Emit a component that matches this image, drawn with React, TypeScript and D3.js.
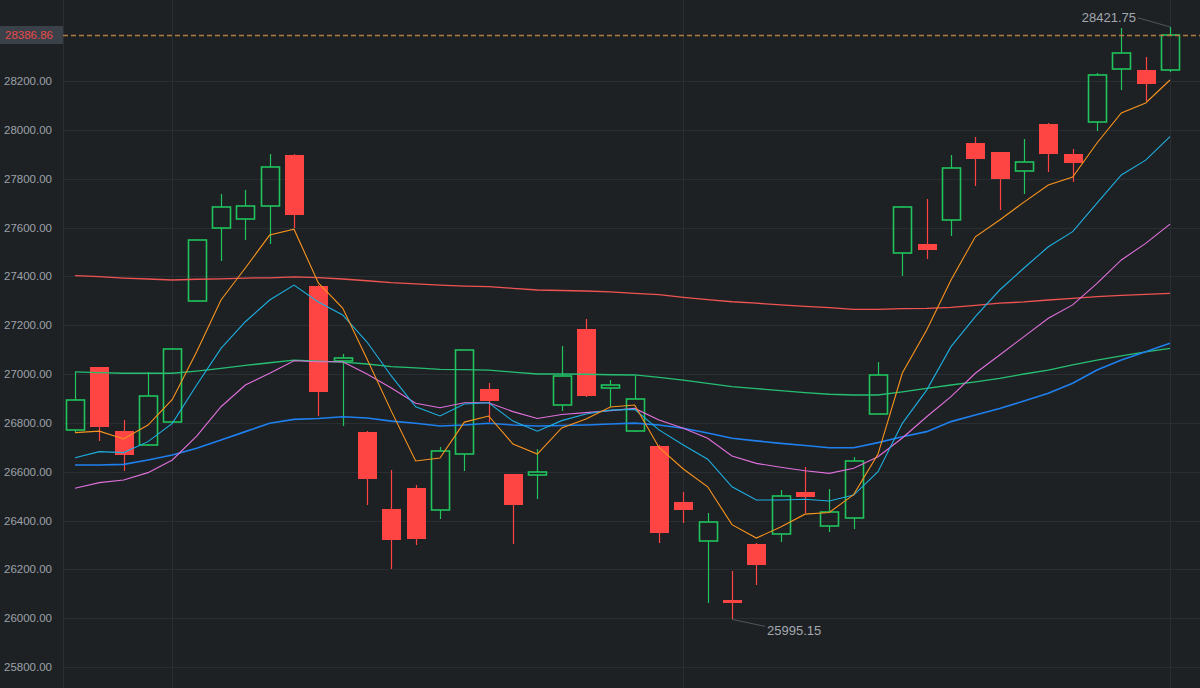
import React from 'react';
import * as d3 from 'd3';

const W = 1200;
const H = 688;

// Candles (OHLC)
const opens = [26770, 27029, 26766, 26709, 26803, 27299, 27598, 27634, 27689, 27897, 27362, 27054, 26762, 26447, 26533, 26444, 26671, 26937, 26590, 26588, 26873, 27184, 26941, 26765, 26706, 26474, 26317, 26073, 26304, 26343, 26516, 26379, 26409, 26838, 27494, 27531, 27629, 27947, 27908, 27833, 28025, 27900, 28033, 28249, 28244, 28244];
const highs = [27009, 27029, 26811, 27009, 27106, 27550, 27736, 27752, 27900, 27900, 27365, 27081, 26765, 26607, 26545, 26702, 27100, 26964, 26592, 26692, 27114, 27227, 26975, 26992, 26708, 26517, 26429, 26194, 26306, 26523, 26619, 26529, 26662, 27049, 27688, 27717, 27896, 27969, 27910, 27961, 28027, 27921, 28231, 28417, 28298, 28421.75];
const lows = [26758, 26727, 26603, 26705, 26800, 27295, 27463, 27549, 27532, 27598, 26829, 26787, 26463, 26202, 26298, 26405, 26604, 26802, 26304, 26487, 26850, 26905, 26866, 26762, 26309, 26391, 26061, 25995.15, 26134, 26310, 26429, 26354, 26364, 26835, 27403, 27472, 27564, 27771, 27672, 27737, 27827, 27788, 27996, 28162, 28118, 28238];
const closes = [26893, 26784, 26668, 26910, 27101, 27547, 27683, 27687, 27846, 27651, 26925, 27065, 26570, 26321, 26323, 26684, 27097, 26891, 26465, 26597, 26990, 26911, 26954, 26896, 26347, 26443, 26392, 26061, 26216, 26501, 26495, 26436, 26645, 26997, 27685, 27507, 27842, 27879, 27797, 27868, 27901, 27863, 28225, 28316, 28188, 28386.86];

// Moving averages
const maOrange = [26760, 26766, 26734, 26791, 26896, 27091, 27303, 27434, 27569, 27593, 27373, 27270, 27061, 26848, 26644, 26656, 26803, 26828, 26713, 26672, 26779, 26816, 26865, 26873, 26699, 26611, 26538, 26383, 26328, 26373, 26426, 26433, 26506, 26672, 27004, 27180, 27385, 27562, 27631, 27704, 27774, 27807, 27946, 28069, 28110, 28204];
const maCyan = [26657, 26682, 26678, 26723, 26798, 26955, 27105, 27214, 27303, 27364, 27295, 27242, 27131, 26992, 26866, 26828, 26877, 26882, 26807, 26766, 26809, 26836, 26852, 26855, 26771, 26709, 26651, 26538, 26484, 26484, 26487, 26480, 26504, 26600, 26798, 26934, 27112, 27235, 27344, 27434, 27521, 27583, 27700, 27815, 27876, 27972];
const maPink = [26532, 26555, 26566, 26596, 26648, 26746, 26866, 26955, 27003, 27054, 27050, 27050, 27000, 26943, 26880, 26862, 26882, 26882, 26846, 26818, 26834, 26842, 26850, 26859, 26812, 26778, 26737, 26664, 26634, 26618, 26604, 26593, 26614, 26661, 26738, 26825, 26907, 27003, 27078, 27153, 27228, 27283, 27371, 27467, 27535, 27614];
const maGreen = [27009, 27006, 27003, 27003, 27003, 27012, 27023, 27035, 27046, 27057, 27053, 27049, 27041, 27030, 27025, 27019, 27018, 27016, 27008, 27000, 27000, 26999, 26997, 26996, 26986, 26975, 26962, 26948, 26940, 26932, 26924, 26917, 26914, 26914, 26927, 26941, 26955, 26968, 26982, 27000, 27016, 27037, 27057, 27074, 27091, 27105];
const maBlue = [26627, 26627, 26630, 26648, 26668, 26696, 26730, 26764, 26798, 26814, 26818, 26825, 26820, 26807, 26798, 26787, 26791, 26798, 26791, 26787, 26789, 26791, 26795, 26799, 26791, 26778, 26758, 26737, 26726, 26716, 26707, 26698, 26698, 26719, 26743, 26764, 26805, 26832, 26859, 26889, 26921, 26962, 27016, 27057, 27091, 27126];
const maRed = [27403, 27399, 27393, 27389, 27385, 27388, 27390, 27393, 27394, 27398, 27395, 27389, 27382, 27374, 27369, 27364, 27360, 27358, 27351, 27344, 27342, 27340, 27336, 27330, 27325, 27314, 27305, 27296, 27290, 27283, 27277, 27272, 27265, 27265, 27268, 27269, 27273, 27281, 27290, 27295, 27303, 27310, 27317, 27322, 27326, 27330];

const yTicks = [25800, 26000, 26200, 26400, 26600, 26800, 27000, 27200, 27400, 27600, 27800, 28000, 28200];
const xGridIdx = [4, 25, 45];
const lastPrice = 28386.86;

const UP = '#1fc45c';
const DOWN = '#ff4444';
const BG = '#1e2124';
const GRID = '#2a2e33';
const FONT = '"Liberation Sans", Arial, sans-serif';

export default function App() {
  const n = closes.length;
  const x = d3.scaleLinear().domain([0, n - 1]).range([75, 1170]);
  const y = d3.scaleLinear().domain([25800, 28200]).range([667, 81]);

  const line = d3
    .line<number>()
    .x((_, i) => x(i))
    .y((d) => y(d));

  const mas: { data: number[]; color: string; w: number }[] = [
    { data: maRed, color: '#f05452', w: 1.3 },
    { data: maGreen, color: '#26bf72', w: 1.3 },
    { data: maBlue, color: '#1e80ee', w: 1.6 },
    { data: maPink, color: '#e070dc', w: 1.1 },
    { data: maCyan, color: '#1eaee0', w: 1.1 },
    { data: maOrange, color: '#f7931e', w: 1.1 },
  ];

  const maxIdx = d3.maxIndex(highs);
  const minIdx = d3.minIndex(lows);
  const maxV = highs[maxIdx];
  const minV = lows[minIdx];
  const lpY = Math.round(y(lastPrice)) + 0.5;

  return (
    <svg
      width={W}
      height={H}
      style={{ position: 'fixed', left: 0, top: 0, background: BG, display: 'block' }}
      fontFamily={FONT}
    >
      <rect x={0} y={0} width={W} height={H} fill={BG} />
      {/* horizontal grid */}
      {yTicks.map((t) => (
        <line key={'h' + t} x1={63} x2={W} y1={Math.round(y(t)) + 0.5} y2={Math.round(y(t)) + 0.5} stroke={GRID} strokeWidth={1} />
      ))}
      {/* vertical grid */}
      <line x1={63.5} x2={63.5} y1={0} y2={H} stroke={GRID} strokeWidth={1} />
      {xGridIdx.map((i) => (
        <line key={'v' + i} x1={Math.round(x(i)) + 0.5} x2={Math.round(x(i)) + 0.5} y1={0} y2={H} stroke={GRID} strokeWidth={1} />
      ))}
      {/* y labels */}
      {yTicks.map((t) => (
        <text key={'t' + t} x={52} y={y(t)} dy="0.35em" textAnchor="end" fontSize={11.5} fill="#9ca2a9">
          {t.toFixed(2)}
        </text>
      ))}

      {/* candles */}
      <g>
        {closes.map((c, i) => {
          const o = opens[i];
          const up = c >= o;
          const cx = Math.round(x(i)) + 0.5;
          const top = Math.round(y(Math.max(o, c)));
          const bot = Math.round(y(Math.min(o, c)));
          const hy = Math.round(y(highs[i]));
          const ly = Math.round(y(lows[i]));
          const col = up ? UP : DOWN;
          if (up) {
            return (
              <g key={i}>
                <line x1={cx} x2={cx} y1={hy} y2={top} stroke={col} strokeWidth={1.2} />
                <line x1={cx} x2={cx} y1={bot} y2={ly} stroke={col} strokeWidth={1.2} />
                <rect x={cx - 9} y={top} width={18} height={Math.max(bot - top, 2)} fill="none" stroke={col} strokeWidth={1.6} />
              </g>
            );
          }
          return (
            <g key={i}>
              <line x1={cx} x2={cx} y1={hy} y2={ly} stroke={col} strokeWidth={1.2} />
              <rect x={cx - 9.5} y={top} width={19} height={Math.max(bot - top, 2)} fill={col} />
            </g>
          );
        })}
      </g>

      {/* moving averages */}
      {mas.map((m, k) => (
        <path key={'ma' + k} d={line(m.data) || ''} fill="none" stroke={m.color} strokeWidth={m.w} />
      ))}

      {/* last price line */}
      <line x1={63} x2={W} y1={lpY} y2={lpY} stroke="#b57a42" strokeWidth={1.6} strokeDasharray="5,3" />
      <rect x={0} y={lpY - 9.5} width={63} height={18} fill="#3a4148" />
      <text x={53} y={y(lastPrice)} dy="0.35em" textAnchor="end" fontSize={11.5} fill="#e8494a">
        {lastPrice.toFixed(2)}
      </text>

      {/* max / min markers */}
      <line x1={x(maxIdx)} y1={y(maxV)} x2={x(maxIdx) - 32} y2={y(maxV) - 9} stroke="#50555c" strokeWidth={1} />
      <text x={x(maxIdx) - 34} y={y(maxV) - 5} textAnchor="end" fontSize={13} fill="#a3a8ae">
        {maxV.toFixed(2)}
      </text>
      <line x1={x(minIdx)} y1={y(minV)} x2={x(minIdx) + 33} y2={y(minV) + 7} stroke="#50555c" strokeWidth={1} />
      <text x={x(minIdx) + 35} y={y(minV) + 15.5} textAnchor="start" fontSize={13} fill="#a3a8ae">
        {minV.toFixed(2)}
      </text>
    </svg>
  );
}
